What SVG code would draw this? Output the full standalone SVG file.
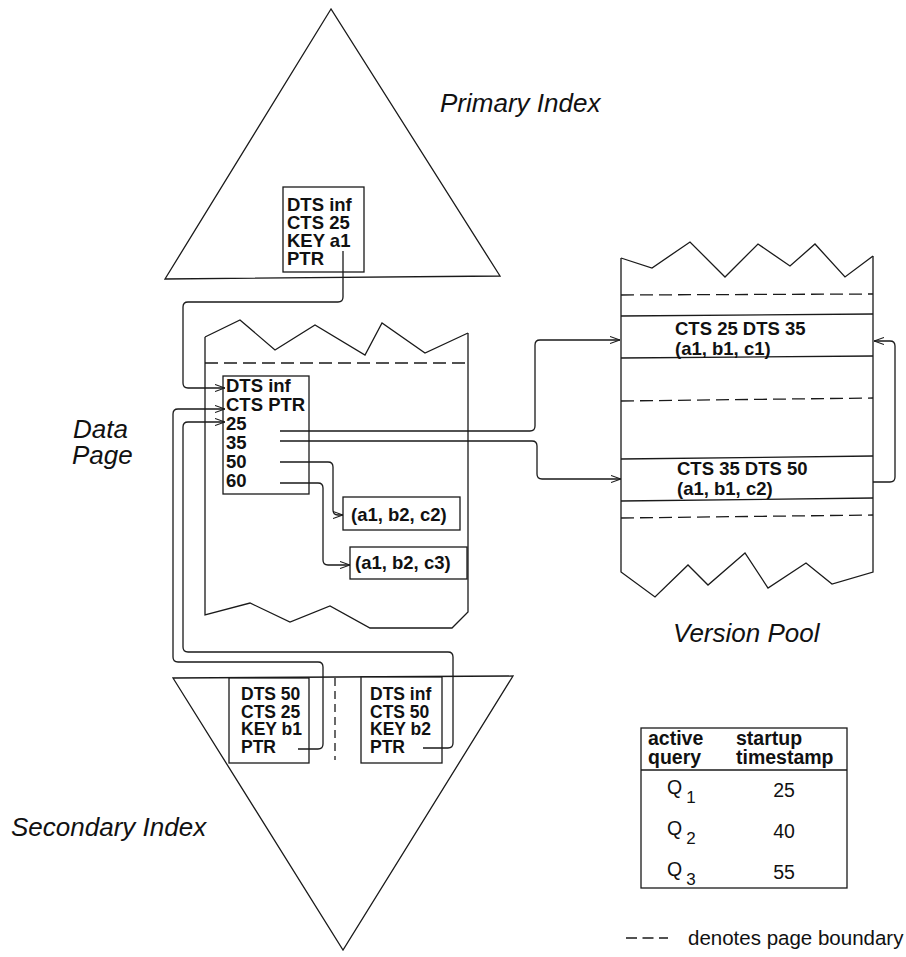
<svg xmlns="http://www.w3.org/2000/svg" width="906" height="957" viewBox="0 0 906 957">
  <defs>
    <marker id="arr" viewBox="0 0 10 8" refX="10" refY="4" markerWidth="10" markerHeight="8" markerUnits="userSpaceOnUse" orient="auto">
      <path d="M0,0.5 L10,4 L0,7.5" fill="none" stroke="#1a1a1a" stroke-width="1.1"/>
    </marker>
  </defs>
  <style>
    .ln{fill:none;stroke:#1a1a1a;stroke-width:1.3}
    .dash{fill:none;stroke:#1a1a1a;stroke-width:1.3;stroke-dasharray:13 6}
    .box{fill:#fff;stroke:#1a1a1a;stroke-width:1.3}
    .tri{fill:#fff;stroke:#1a1a1a;stroke-width:1.3;stroke-linejoin:miter}
    .bt{font-family:"Liberation Sans",Arial,Helvetica,sans-serif;font-weight:bold;font-size:18.5px;fill:#111}
    .bs{font-family:"Liberation Sans",Arial,Helvetica,sans-serif;font-weight:bold;font-size:17.5px;fill:#111}
    .th{font-family:"Liberation Sans",Arial,Helvetica,sans-serif;font-weight:bold;font-size:19.5px;fill:#111}
    .lbl{font-family:"Liberation Sans",Arial,Helvetica,sans-serif;font-style:italic;font-size:26px;fill:#111}
    .tt{font-family:"Liberation Sans",Arial,Helvetica,sans-serif;font-size:19.5px;fill:#111}
    .con{fill:none;stroke:#1a1a1a;stroke-width:1.3;marker-end:url(#arr)}
  </style>
  <rect width="906" height="957" fill="#fff"/>

  <!-- primary index tree with its leaf entry -->
  <g id="primary-index">
    <polygon class="tri" points="331,9 165,279 500,276"/>
    <text class="lbl" x="440" y="112">Primary Index</text>
  </g>
  <g id="primary-entry">
    <rect class="box" x="283" y="187" width="81" height="85"/>
    <text class="bt" x="287" y="211">DTS inf</text>
    <text class="bt" x="287" y="229">CTS 25</text>
    <text class="bt" x="287" y="247">KEY a1</text>
    <text class="bt" x="287" y="265">PTR</text>
  </g>

  <!-- data page -->
  <g id="data-page">
    <path class="ln" d="M205,337 L240,320 L275,350 L315,325 L365,355 L382,323 L425,353 L468,333"/>
    <path class="ln" d="M205,337 V615 L250,603 L290,622 L330,606 L370,628 L452,628 L468,612 V333"/>
    <line class="dash" x1="205" y1="363" x2="468" y2="363"/>
    <text class="lbl" x="73" y="438">Data</text>
    <text class="lbl" x="72" y="464">Page</text>
  </g>
  <g id="data-record">
    <rect class="box" x="223" y="376" width="86" height="118"/>
    <text class="bt" x="226" y="392">DTS inf</text>
    <text class="bt" x="226" y="411">CTS PTR</text>
    <text class="bt" x="226" y="430">25</text>
    <text class="bt" x="226" y="449">35</text>
    <text class="bt" x="226" y="468">50</text>
    <text class="bt" x="226" y="487">60</text>
  </g>
  <g id="tuple-c2">
    <rect class="box" x="343" y="497" width="117" height="33"/>
    <text class="bt" x="351" y="521">(a1, b2, c2)</text>
  </g>
  <g id="tuple-c3">
    <rect class="box" x="350" y="547" width="117" height="32"/>
    <text class="bt" x="355" y="569">(a1, b2, c3)</text>
  </g>

  <!-- version pool -->
  <g id="version-pool">
    <path class="ln" d="M621,258 L652,268 L690,242 L725,277 L758,244 L790,266 L815,244 L845,277 L873,256"/>
    <path class="ln" d="M621,258 V572 L655,597 L688,565 L708,585 L745,553 L768,588 L806,563 L832,584 L873,572 V256"/>
    <line class="dash" x1="621" y1="295" x2="873" y2="294"/>
    <line class="ln" x1="621" y1="316" x2="873" y2="314"/>
    <line class="ln" x1="621" y1="358" x2="873" y2="356"/>
    <line class="dash" x1="621" y1="401" x2="873" y2="398"/>
    <line class="ln" x1="621" y1="459" x2="873" y2="456"/>
    <line class="ln" x1="621" y1="501" x2="873" y2="498"/>
    <line class="dash" x1="621" y1="518" x2="873" y2="515"/>
    <text class="lbl" x="673" y="642">Version Pool</text>
  </g>
  <g id="version-c1">
    <text class="bt" x="675" y="335">CTS 25 DTS 35</text>
    <text class="bt" x="675" y="355">(a1, b1, c1)</text>
  </g>
  <g id="version-c2">
    <text class="bt" x="677" y="475">CTS 35 DTS 50</text>
    <text class="bt" x="677" y="495">(a1, b1, c2)</text>
  </g>

  <!-- secondary index tree with two leaf entries -->
  <g id="secondary-index">
    <polygon class="tri" points="173,678 513,676 343,950"/>
    <line class="dash" x1="335" y1="678" x2="335" y2="760" style="stroke-dasharray:8 5"/>
    <text class="lbl" x="11" y="836">Secondary Index</text>
  </g>
  <g id="secondary-entry-b1">
    <rect class="box" x="229" y="678" width="80" height="85"/>
    <text class="bs" x="241" y="700">DTS 50</text>
    <text class="bs" x="241" y="717.5">CTS 25</text>
    <text class="bs" x="241" y="735">KEY b1</text>
    <text class="bs" x="241" y="752.5">PTR</text>
  </g>
  <g id="secondary-entry-b2">
    <rect class="box" x="361" y="677" width="81" height="86"/>
    <text class="bs" x="370" y="700">DTS inf</text>
    <text class="bs" x="370" y="717.5">CTS 50</text>
    <text class="bs" x="370" y="735">KEY b2</text>
    <text class="bs" x="370" y="752.5">PTR</text>
  </g>

  <!-- active query table -->
  <g id="query-table">
    <rect class="box" x="641" y="728" width="206" height="160"/>
    <line class="ln" x1="641" y1="770" x2="847" y2="770"/>
    <text class="th" x="648" y="745">active</text>
    <text class="th" x="648" y="764">query</text>
    <text class="th" x="736" y="745">startup</text>
    <text class="th" x="736" y="764">timestamp</text>
    <text class="tt" x="667" y="794">Q<tspan dx="4" dy="9" style="font-size:17px">1</tspan></text>
    <text class="tt" x="667" y="835">Q<tspan dx="4" dy="9" style="font-size:17px">2</tspan></text>
    <text class="tt" x="667" y="876">Q<tspan dx="4" dy="9" style="font-size:17px">3</tspan></text>
    <text class="tt" x="784" y="797" text-anchor="middle">25</text>
    <text class="tt" x="784" y="838" text-anchor="middle">40</text>
    <text class="tt" x="784" y="879" text-anchor="middle">55</text>
  </g>

  <!-- legend -->
  <g id="legend">
    <line class="dash" x1="626" y1="938" x2="668" y2="938" style="stroke-dasharray:11 5.5"/>
    <text class="tt" x="688" y="945" style="font-size:20.5px">denotes page boundary</text>
  </g>

  <!-- pointers -->
  <g id="connectors">
    <path class="con" d="M343,251 V297 Q343,302 338,302 H188 Q183,302 183,307 V383 Q183,388 188,388 H225"/>
    <path class="con" d="M280,431 H530 Q535,431 535,426 V345 Q535,340 540,340 H620"/>
    <path class="con" d="M280,441 H532 Q537,441 537,446 V474 Q537,479 542,479 H621"/>
    <path class="con" d="M280,462 H328 Q333,462 333,467 V510 Q333,515 338,515 H343"/>
    <path class="con" d="M280,483 H318 Q323,483 323,488 V560 Q323,565 328,565 H350"/>
    <path class="con" d="M873,482 H890 Q895,482 895,477 V346 Q895,341 890,341 H874"/>
    <path class="con" d="M298,749 H318 Q323,749 323,744 V667 Q323,662 318,662 H178 Q173,662 173,657 V414 Q173,409 178,409 H225"/>
    <path class="con" d="M423,748 H448 Q453,748 453,743 V657 Q453,652 448,652 H188 Q183,652 183,647 V427 Q183,422 188,422 H225"/>
  </g>
</svg>
